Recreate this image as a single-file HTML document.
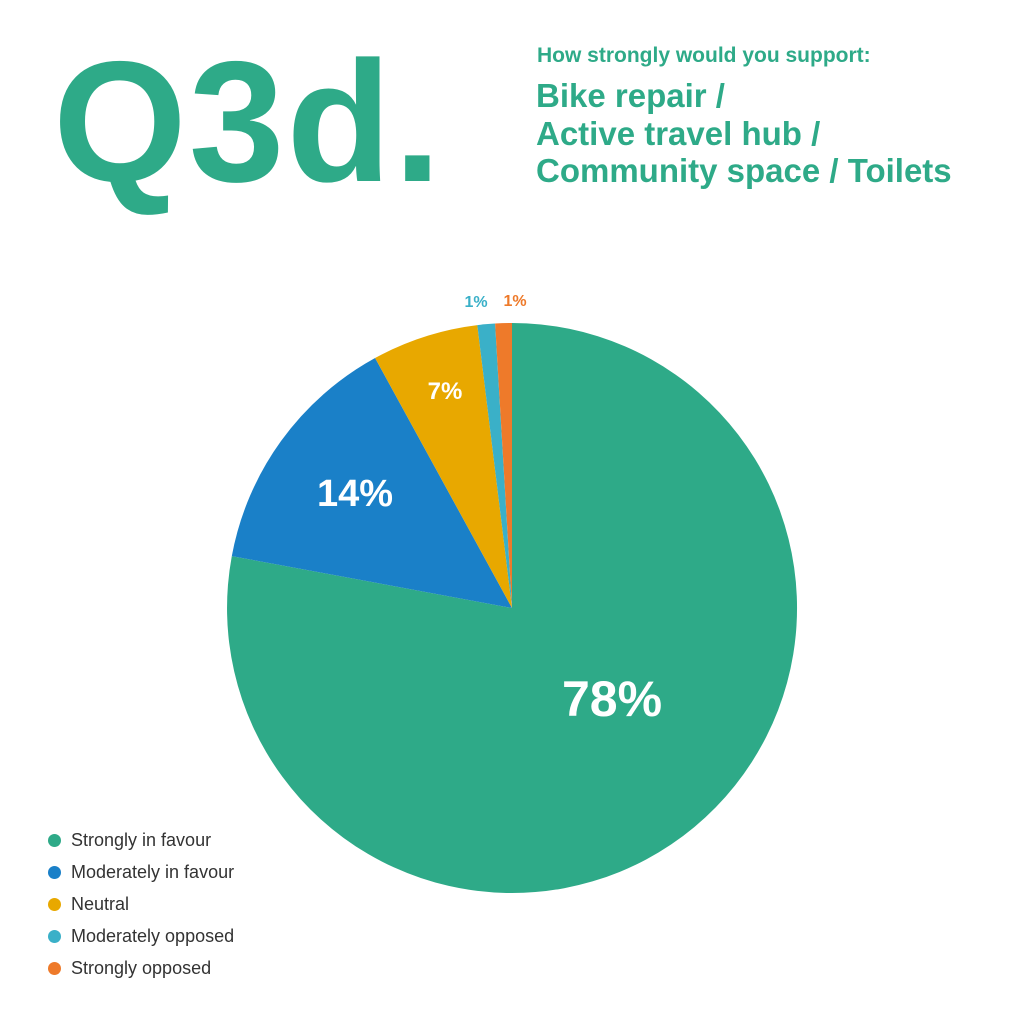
<!DOCTYPE html>
<html><head><meta charset="utf-8"><style>
body{margin:0;width:1024px;height:1024px;background:#fff;overflow:hidden;position:relative;font-family:"Liberation Sans",sans-serif;}
.t{position:absolute;color:#2eaa88;font-weight:bold;white-space:nowrap;}
.lg{position:absolute;left:48px;font-size:18px;color:#333;}
.lg span{display:inline-block;width:13px;height:13px;border-radius:50%;margin-right:10px;vertical-align:-1px;}
</style></head><body>
<div class="t" style="left:537px;top:44px;font-size:21px;">How strongly would you support:</div>
<div class="t" style="left:536px;top:77px;font-size:33px;line-height:37.5px;">Bike repair /<br>Active travel hub /<br>Community space / Toilets</div>
<svg width="1024" height="1024" style="position:absolute;left:0;top:0">
<text x="53" y="181" font-family="Liberation Sans, sans-serif" font-weight="bold" font-size="172" letter-spacing="2" fill="#2eaa88">Q3d.</text>
<path d="M512,608 L512,323 A285,285 0 1 1 231.8,556.1 Z" fill="#2eaa88"/>
<path d="M512,608 L231.8,556.1 A285,285 0 0 1 375.1,358 Z" fill="#1a80c8"/>
<path d="M512,608 L375.1,358 A285,285 0 0 1 477.3,325.1 Z" fill="#e8a800"/>
<path d="M512,608 L477.3,325.1 A285,285 0 0 1 495.1,323.5 Z" fill="#3ab0c8"/>
<path d="M512,608 L495.1,323.5 A285,285 0 0 1 512,323 Z" fill="#ee7a2a"/>
<g font-family="Liberation Sans, sans-serif" font-weight="bold" text-anchor="middle">
<text x="612" y="716" font-size="50" fill="#fff">78%</text>
<text x="355" y="506" font-size="38" fill="#fff">14%</text>
<text x="445" y="399" font-size="24" fill="#fff">7%</text>
<text x="476" y="307" font-size="16" fill="#3ab0c8">1%</text>
<text x="515" y="306" font-size="16" fill="#ee7a2a">1%</text>
</g>
</svg>
<div class="lg" style="top:830px"><span style="background:#2eaa88"></span>Strongly in favour</div>
<div class="lg" style="top:862px"><span style="background:#1a80c8"></span>Moderately in favour</div>
<div class="lg" style="top:894px"><span style="background:#e8a800"></span>Neutral</div>
<div class="lg" style="top:926px"><span style="background:#3ab0c8"></span>Moderately opposed</div>
<div class="lg" style="top:958px"><span style="background:#ee7a2a"></span>Strongly opposed</div>
</body></html>
